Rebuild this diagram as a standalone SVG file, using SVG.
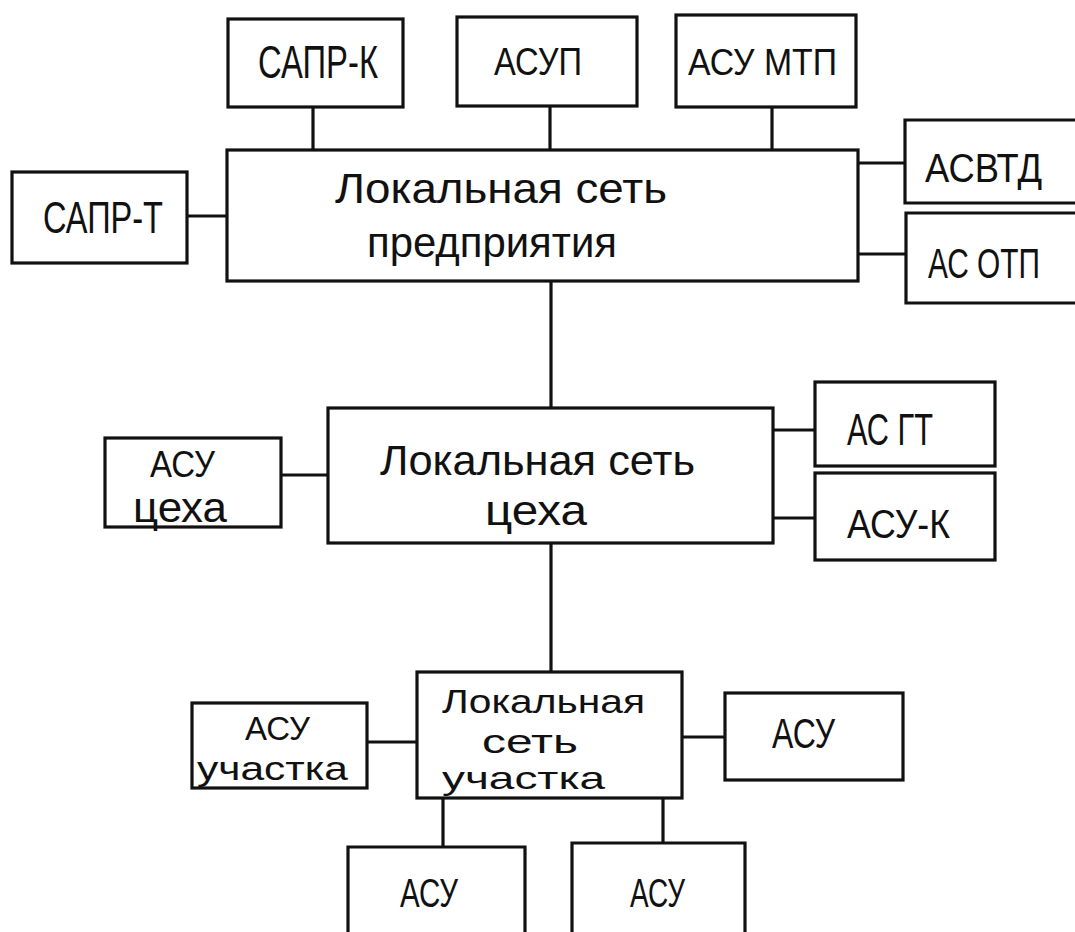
<svg xmlns="http://www.w3.org/2000/svg" width="1075" height="932" viewBox="0 0 1075 932">
<style>
.b{fill:none;stroke:#111;stroke-width:3.2}
.c{stroke:#111;stroke-width:3.2;fill:none}
text{font-family:"Liberation Sans","DejaVu Sans",sans-serif;fill:#111}
</style>
<rect width="1075" height="932" fill="#fff"/>
<g id="connectors">
<line class="c" x1="313" y1="107" x2="313" y2="150"/>
<line class="c" x1="550" y1="106" x2="550" y2="150"/>
<line class="c" x1="772" y1="107" x2="772" y2="150"/>
<line class="c" x1="187" y1="216" x2="227" y2="216"/>
<line class="c" x1="858" y1="163" x2="905" y2="163"/>
<line class="c" x1="858" y1="254" x2="906" y2="254"/>
<line class="c" x1="551" y1="281" x2="551" y2="408"/>
<line class="c" x1="281" y1="475" x2="328" y2="475"/>
<line class="c" x1="773" y1="430" x2="815" y2="430"/>
<line class="c" x1="773" y1="518" x2="815" y2="518"/>
<line class="c" x1="551" y1="543" x2="551" y2="672"/>
<line class="c" x1="367" y1="742" x2="417" y2="742"/>
<line class="c" x1="682" y1="737" x2="725" y2="737"/>
<line class="c" x1="443" y1="798" x2="443" y2="847"/>
<line class="c" x1="663" y1="798" x2="663" y2="843"/>
</g>
<g id="sapr-k"><rect class="b" x="228" y="19" width="175" height="88"/><text x="258" y="78" font-size="46" textLength="120" lengthAdjust="spacingAndGlyphs">САПР-К</text></g>
<g id="asup"><rect class="b" x="457" y="17" width="180" height="89"/><text x="494" y="75" font-size="39" textLength="88" lengthAdjust="spacingAndGlyphs">АСУП</text></g>
<g id="asu-mtp"><rect class="b" x="676" y="15" width="180" height="92"/><text x="688" y="75" font-size="37" textLength="149" lengthAdjust="spacingAndGlyphs">АСУ МТП</text></g>
<g id="net-enterprise"><rect class="b" x="227" y="150" width="631" height="131"/>
<text x="335" y="203" font-size="42" textLength="332" lengthAdjust="spacingAndGlyphs">Локальная  сеть</text>
<text x="367" y="257" font-size="42" textLength="250" lengthAdjust="spacingAndGlyphs">предприятия</text></g>
<g id="sapr-t"><rect class="b" x="12" y="172" width="175" height="91"/><text x="43" y="233" font-size="45" textLength="120" lengthAdjust="spacingAndGlyphs">САПР-Т</text></g>
<g id="asvtd"><path class="b" d="M1075,120 H905 V203 H1075"/><text x="925" y="182" font-size="40" textLength="117" lengthAdjust="spacingAndGlyphs">АСВТД</text></g>
<g id="asotp"><path class="b" d="M1075,213 H906 V303 H1075"/><text x="928" y="278" font-size="42" textLength="112" lengthAdjust="spacingAndGlyphs">АС ОТП</text></g>
<g id="net-shop"><rect class="b" x="328" y="408" width="445" height="135"/>
<text x="380" y="475" font-size="42" textLength="315" lengthAdjust="spacingAndGlyphs">Локальная  сеть</text>
<text x="485" y="525" font-size="42" textLength="102" lengthAdjust="spacingAndGlyphs">цеха</text></g>
<g id="asu-shop"><rect class="b" x="105" y="438" width="176" height="89"/>
<text x="150" y="477" font-size="36" textLength="65" lengthAdjust="spacingAndGlyphs">АСУ</text>
<text x="133" y="522" font-size="42" textLength="94" lengthAdjust="spacingAndGlyphs">цеха</text></g>
<g id="as-gt"><rect class="b" x="815" y="382" width="180" height="84"/><text x="847" y="445" font-size="44" textLength="86" lengthAdjust="spacingAndGlyphs">АС ГТ</text></g>
<g id="asu-k"><rect class="b" x="815" y="473" width="180" height="87"/><text x="847" y="538" font-size="40" textLength="103" lengthAdjust="spacingAndGlyphs">АСУ-К</text></g>
<g id="net-section"><rect class="b" x="417" y="672" width="265" height="126"/>
<text x="442" y="713" font-size="34" textLength="203" lengthAdjust="spacingAndGlyphs">Локальная</text>
<text x="482" y="753" font-size="34" textLength="96" lengthAdjust="spacingAndGlyphs">сеть</text>
<text x="442" y="789" font-size="32" textLength="163" lengthAdjust="spacingAndGlyphs">участка</text></g>
<g id="asu-section"><rect class="b" x="192" y="703" width="175" height="85"/>
<text x="245" y="740" font-size="34" textLength="65" lengthAdjust="spacingAndGlyphs">АСУ</text>
<text x="197" y="780" font-size="34" textLength="151" lengthAdjust="spacingAndGlyphs">участка</text></g>
<g id="asu-right"><rect class="b" x="725" y="693" width="178" height="87"/><text x="772" y="748" font-size="42" textLength="63" lengthAdjust="spacingAndGlyphs">АСУ</text></g>
<g id="asu-bottom-1"><path class="b" d="M348,932 V847 H525 V932"/><text x="400" y="907" font-size="40" textLength="58" lengthAdjust="spacingAndGlyphs">АСУ</text></g>
<g id="asu-bottom-2"><path class="b" d="M572,932 V843 H745 V932"/><text x="630" y="907" font-size="40" textLength="55" lengthAdjust="spacingAndGlyphs">АСУ</text></g>
</svg>
